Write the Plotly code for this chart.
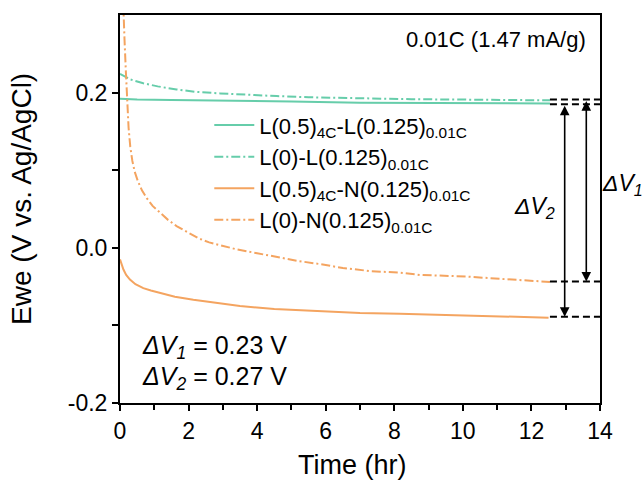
import plotly.graph_objects as go

# ---------------- data ----------------
t_teal_solid = [0, 0.5, 1.5, 2.92, 5, 7, 9, 11, 12.54]
v_teal_solid = [0.192, 0.191, 0.1905, 0.190, 0.1885, 0.187, 0.1865, 0.186, 0.186]

t_teal_dd = [0, 0.3, 0.68, 1.1, 1.65, 2.2, 2.92, 3.7, 4.57, 5.5, 7, 8.5, 10, 11.5, 12.54]
v_teal_dd = [0.224, 0.217, 0.212, 0.208, 0.204, 0.201, 0.199, 0.197, 0.1955, 0.194,
             0.1925, 0.1915, 0.191, 0.1905, 0.190]

t_or_solid = [0, 0.05, 0.1, 0.18, 0.29, 0.45, 0.68, 0.9, 1.17, 1.6, 2.14, 2.92, 3.5,
              4.5, 5.83, 7, 8.16, 9, 10.1, 11.3, 12.5]
v_or_solid = [-0.015, -0.022, -0.028, -0.035, -0.041, -0.047, -0.052, -0.055, -0.058,
              -0.063, -0.067, -0.072, -0.075, -0.079, -0.082, -0.084, -0.085, -0.086,
              -0.087, -0.089, -0.090]

t_or_dd = [0.06, 0.1, 0.13, 0.17, 0.21, 0.25, 0.3, 0.36, 0.43, 0.52, 0.64, 0.78, 0.95,
           1.17, 1.4, 1.65, 2.0, 2.3, 2.6, 2.92, 3.4, 4.0, 4.6, 5.2, 5.83, 6.5, 7.29,
           8.16, 8.75, 9.5, 10.1, 11.08, 11.8, 12.54]
v_or_dd = [0.36, 0.30, 0.27, 0.228, 0.185, 0.155, 0.13, 0.112, 0.098, 0.086, 0.074,
           0.064, 0.054, 0.045, 0.036, 0.028, 0.019, 0.012, 0.007, 0.003, -0.002,
           -0.007, -0.012, -0.017, -0.021, -0.026, -0.030, -0.032, -0.035, -0.036,
           -0.037, -0.040, -0.042, -0.044]

names = ["L(0.5)<sub>4C</sub>-L(0.125)<sub>0.01C</sub>",
         "L(0)-L(0.125)<sub>0.01C</sub>",
         "L(0.5)<sub>4C</sub>-N(0.125)<sub>0.01C</sub>",
         "L(0)-N(0.125)<sub>0.01C</sub>"]

# reference levels for the ΔV markers
ref_levels = [0.191, 0.185, -0.0435, -0.089]
dv1_span = (0.191, -0.0435)
dv2_span = (0.185, -0.089)
x_dash_start, x_dash_end = 12.54, 14
x_dv2, x_dv1 = 12.97, 13.6

TEAL = "#66CDAA"
ORANGE = "#F4A460"
FONT = "Arial, Liberation Sans, sans-serif"
DD = "9px,3px,2px,3px"

fig = go.Figure()
fig.add_trace(go.Scatter(x=t_teal_solid, y=v_teal_solid, mode="lines", name=names[0],
                         line=dict(color=TEAL, width=2)))
fig.add_trace(go.Scatter(x=t_teal_dd, y=v_teal_dd, mode="lines", name=names[1],
                         line=dict(color=TEAL, width=2, dash=DD)))
fig.add_trace(go.Scatter(x=t_or_solid, y=v_or_solid, mode="lines", name=names[2],
                         line=dict(color=ORANGE, width=2)))
fig.add_trace(go.Scatter(x=t_or_dd, y=v_or_dd, mode="lines", name=names[3],
                         line=dict(color=ORANGE, width=2, dash=DD)))

for lv in ref_levels:
    fig.add_shape(type="line", x0=x_dash_start, x1=x_dash_end, y0=lv, y1=lv,
                  xref="x", yref="y", line=dict(color="black", width=2, dash="7px,4px"))

for xa, (a, b) in [(x_dv2, dv2_span), (x_dv1, dv1_span)]:
    fig.add_annotation(x=xa, y=b, ax=xa, ay=a, xref="x", yref="y", axref="x", ayref="y",
                       text="", showarrow=True, arrowhead=2, arrowside="end+start",
                       arrowsize=1.2, arrowwidth=1.6, arrowcolor="black")

fig.add_annotation(x=12.08, y=0.052, xref="x", yref="y", text="<i>ΔV</i><sub><i>2</i></sub>",
                   showarrow=False, font=dict(size=23, color="black", family=FONT))
fig.add_annotation(x=1.0, y=0.081, xref="paper", yref="y", xanchor="left",
                   text="<i>ΔV</i><sub><i>1</i></sub>",
                   showarrow=False, font=dict(size=23, color="black", family=FONT))
fig.add_annotation(x=0.975, y=0.936, xref="paper", yref="paper", xanchor="right", yanchor="middle",
                   text="0.01C (1.47 mA/g)", showarrow=False,
                   font=dict(size=22, color="black", family=FONT))
fig.add_annotation(x=0.042, y=-0.128, xref="paper", yref="y", xanchor="left", yanchor="middle",
                   text="<i>ΔV</i><sub><i>1</i></sub> = 0.23 V", showarrow=False,
                   font=dict(size=25, color="black", family=FONT))
fig.add_annotation(x=0.042, y=-0.168, xref="paper", yref="y", xanchor="left", yanchor="middle",
                   text="<i>ΔV</i><sub><i>2</i></sub> = 0.27 V", showarrow=False,
                   font=dict(size=25, color="black", family=FONT))

# axis titles
fig.add_annotation(x=-0.205, y=0.525, xref="paper", yref="paper", textangle=-90,
                   xanchor="center", yanchor="middle",
                   text="Ewe (V vs. Ag/AgCl)", showarrow=False,
                   font=dict(size=28, color="black", family=FONT))
fig.add_annotation(x=0.485, y=-0.16, xref="paper", yref="paper",
                   xanchor="center", yanchor="middle",
                   text="Time (hr)", showarrow=False,
                   font=dict(size=27, color="black", family=FONT))

axis_common = dict(showline=True, linecolor="black", linewidth=2, mirror=True,
                   ticks="outside", ticklen=6, tickwidth=2, tickcolor="black",
                   showgrid=False, zeroline=False,
                   tickfont=dict(size=23, color="black", family=FONT))

fig.update_xaxes(range=[0, 14], tickvals=[0, 2, 4, 6, 8, 10, 12, 14],
                 minor=dict(tickvals=[1, 3, 5, 7, 9, 11, 13], ticks="outside", ticklen=5,
                            tickwidth=2, tickcolor="black"),
                 **axis_common)
fig.update_yaxes(range=[-0.2, 0.3], tickvals=[-0.2, 0.0, 0.2], ticktext=["-0.2", "0.0", "0.2"],
                 minor=dict(tickvals=[-0.1, 0.1], ticks="outside", ticklen=6,
                            tickwidth=2, tickcolor="black"),
                 **axis_common)

fig.update_layout(
    width=642, height=484,
    margin=dict(l=120, r=42, t=15, b=81),
    plot_bgcolor="white", paper_bgcolor="white",
    showlegend=True,
    legend=dict(x=0.186, y=0.77, xanchor="left", yanchor="top",
                bgcolor="rgba(0,0,0,0)", borderwidth=0,
                font=dict(size=22, color="black", family=FONT),
                tracegroupgap=0, itemwidth=40),
)

fig.write_html("out.html")
